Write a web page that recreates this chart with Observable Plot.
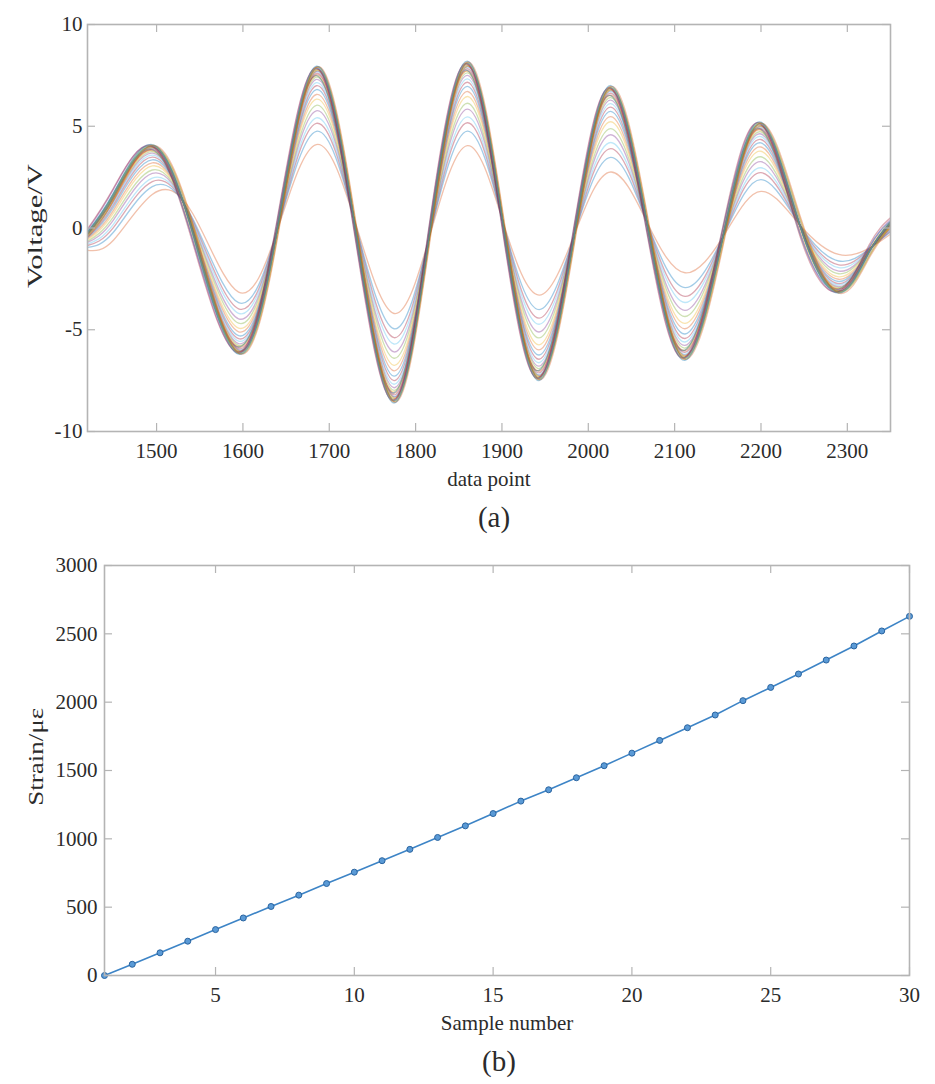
<!DOCTYPE html>
<html>
<head>
<meta charset="utf-8">
<script src="https://cdn.jsdelivr.net/npm/d3@7"></script>
<script src="https://cdn.jsdelivr.net/npm/@observablehq/plot@0.6"></script>
<style>
  html, body { margin: 0; padding: 0; background: #fff; }
  #wrap { width: 935px; height: 1084px; position: relative; overflow: hidden; }
  #wrap svg { display: block; overflow: visible; }
</style>
</head>
<body>
<div id="wrap"><div id="pa"></div><div id="pb"></div></div>
<script>
// ---------- Panel (a): voltage waveforms ----------
const keyX = [1420, 1450, 1495, 1542, 1595, 1640, 1685, 1730, 1775, 1817, 1860, 1902, 1943, 1985, 2026, 2069, 2112, 2158, 2200, 2246, 2290, 2325, 2350];
const waveRows = [
  [-1.1, -0.6, 1.65, 0.7, -3.15, -0.1, 4.1, 0.3, -4.2, -0.3, 4.05, 0.2, -3.3, -0.2, 2.75, 0.2, -2.2, -0.3, 1.8, 0.1, -1.3, -1.0, -0.3],
  [-0.95, -0.21, 2.03, 0.45, -3.67, -0.08, 4.75, 0.25, -4.95, -0.25, 4.76, 0.17, -4.01, -0.17, 3.47, 0.17, -2.93, -0.25, 2.38, 0.08, -1.62, -1.03, -0.2],
  [-0.86, 0.02, 2.28, 0.36, -3.97, -0.07, 5.14, 0.22, -5.39, -0.22, 5.17, 0.15, -4.43, -0.15, 3.9, 0.15, -3.36, -0.22, 2.72, 0.07, -1.81, -1.05, -0.14],
  [-0.79, 0.18, 2.45, 0.29, -4.19, -0.07, 5.41, 0.2, -5.7, -0.2, 5.46, 0.13, -4.73, -0.13, 4.2, 0.13, -3.66, -0.2, 2.96, 0.07, -1.95, -1.07, -0.1],
  [-0.71, 0.39, 2.68, 0.21, -4.46, -0.06, 5.76, 0.17, -6.09, -0.17, 5.84, 0.11, -5.11, -0.11, 4.58, 0.11, -4.05, -0.17, 3.26, 0.06, -2.12, -1.09, -0.04],
  [-0.65, 0.55, 2.85, 0.15, -4.68, -0.05, 6.03, 0.15, -6.4, -0.15, 6.13, 0.1, -5.4, -0.1, 4.88, 0.1, -4.35, -0.15, 3.5, 0.05, -2.25, -1.1, 0.0],
  [-0.58, 0.73, 3.05, 0.08, -4.92, -0.04, 6.33, 0.13, -6.75, -0.13, 6.46, 0.08, -5.74, -0.08, 5.22, 0.08, -4.69, -0.13, 3.77, 0.04, -2.4, -1.12, 0.05],
  [-0.52, 0.87, 3.2, 0.02, -5.1, -0.04, 6.56, 0.11, -7.02, -0.11, 6.71, 0.07, -5.99, -0.07, 5.47, 0.07, -4.95, -0.11, 3.98, 0.04, -2.52, -1.13, 0.08],
  [-0.47, 1.01, 3.35, -0.03, -5.29, -0.03, 6.8, 0.09, -7.28, -0.09, 6.96, 0.06, -6.24, -0.06, 5.73, 0.06, -5.21, -0.09, 4.18, 0.03, -2.63, -1.14, 0.12],
  [-0.43, 1.13, 3.48, -0.08, -5.44, -0.03, 6.99, 0.08, -7.5, -0.08, 7.16, 0.05, -6.45, -0.05, 5.94, 0.05, -5.43, -0.08, 4.35, 0.03, -2.73, -1.15, 0.15],
  [-0.39, 1.22, 3.58, -0.11, -5.56, -0.02, 7.14, 0.06, -7.68, -0.06, 7.33, 0.04, -6.62, -0.04, 6.11, 0.04, -5.6, -0.06, 4.49, 0.02, -2.8, -1.16, 0.17],
  [-0.35, 1.31, 3.68, -0.15, -5.68, -0.02, 7.3, 0.05, -7.85, -0.05, 7.5, 0.03, -6.79, -0.03, 6.28, 0.03, -5.77, -0.05, 4.62, 0.02, -2.88, -1.17, 0.2],
  [-0.33, 1.38, 3.75, -0.17, -5.77, -0.01, 7.41, 0.04, -7.98, -0.04, 7.62, 0.03, -6.91, -0.03, 6.41, 0.03, -5.9, -0.04, 4.72, 0.01, -2.93, -1.17, 0.22],
  [-0.25, 1.6, 3.8, -0.45, -5.82, 0.25, 7.48, -0.25, -8.05, 0.25, 7.7, -0.25, -7.0, 0.25, 6.5, -0.25, -6.0, 0.25, 4.8, -0.25, -2.97, -1.05, 0.3],
  [-0.3, 1.45, 3.83, -0.2, -5.86, -0.01, 7.53, 0.03, -8.12, -0.03, 7.74, 0.02, -7.04, -0.02, 6.53, 0.02, -6.03, -0.03, 4.83, 0.01, -2.99, -1.18, 0.23],
  [-0.2, 1.7, 3.85, -0.6, -5.85, 0.4, 7.5, -0.4, -8.1, 0.4, 7.75, -0.4, -7.0, 0.4, 6.5, -0.4, -6.0, 0.4, 4.85, -0.4, -3.0, -0.95, 0.35],
  [-0.28, 1.49, 3.88, -0.22, -5.93, -0.01, 7.6, 0.03, -8.2, -0.03, 7.83, 0.02, -7.12, -0.02, 6.62, 0.02, -6.11, -0.03, 4.89, 0.01, -3.03, -1.18, 0.25],
  [-0.26, 1.54, 3.93, -0.24, -5.99, -0.01, 7.68, 0.02, -8.29, -0.02, 7.91, 0.01, -7.21, -0.01, 6.7, 0.01, -6.2, -0.02, 4.96, 0.01, -3.07, -1.19, 0.26],
  [-0.3, 1.5, 3.95, -0.05, -6.0, -0.2, 7.7, 0.2, -8.3, -0.2, 7.95, 0.2, -7.25, -0.2, 6.75, 0.2, -6.25, -0.2, 5.0, 0.2, -3.1, -1.3, 0.2],
  [-0.25, 1.59, 3.98, -0.26, -6.05, 0.0, 7.76, 0.02, -8.38, -0.02, 7.99, 0.01, -7.29, -0.01, 6.79, 0.01, -6.29, -0.02, 5.03, 0.0, -3.11, -1.19, 0.27],
  [-0.4, 1.35, 3.95, 0.15, -6.05, -0.4, 7.75, 0.4, -8.35, -0.4, 7.95, 0.4, -7.3, -0.4, 6.8, 0.4, -6.3, -0.4, 5.0, 0.4, -3.1, -1.4, 0.1],
  [-0.24, 1.61, 4.0, -0.26, -6.08, 0.0, 7.8, 0.01, -8.42, -0.01, 8.03, 0.01, -7.33, -0.01, 6.83, 0.01, -6.33, -0.01, 5.06, 0.0, -3.12, -1.19, 0.28],
  [-0.23, 1.63, 4.03, -0.27, -6.11, 0.0, 7.83, 0.01, -8.47, -0.01, 8.08, 0.01, -7.37, -0.01, 6.87, 0.01, -6.37, -0.01, 5.1, 0.0, -3.14, -1.19, 0.28],
  [-0.05, 1.95, 4.0, -0.75, -6.1, 0.5, 7.85, -0.5, -8.45, 0.5, 8.05, -0.5, -7.35, 0.5, 6.85, -0.5, -6.35, 0.5, 5.1, -0.5, -3.1, -0.85, 0.5],
  [-0.22, 1.65, 4.05, -0.28, -6.14, 0.0, 7.87, 0.01, -8.51, -0.01, 8.12, 0.0, -7.42, 0.0, 6.92, 0.0, -6.41, -0.01, 5.13, 0.0, -3.16, -1.2, 0.29],
  [-0.1, 1.9, 4.05, -0.6, -6.15, 0.3, 7.9, -0.3, -8.5, 0.3, 8.1, -0.3, -7.4, 0.3, 6.9, -0.3, -6.4, 0.3, 5.15, -0.3, -3.15, -1.0, 0.4],
  [-0.35, 1.5, 4.05, 0.0, -6.15, -0.3, 7.9, 0.3, -8.5, -0.3, 8.1, 0.3, -7.4, -0.3, 6.9, 0.3, -6.4, -0.3, 5.15, 0.3, -3.15, -1.4, 0.15],
  [-0.21, 1.68, 4.08, -0.29, -6.17, 0.0, 7.91, 0.0, -8.56, 0.0, 8.16, 0.0, -7.46, 0.0, 6.96, 0.0, -6.46, 0.0, 5.17, 0.0, -3.18, -1.2, 0.29],
  [-0.45, 1.35, 4.05, 0.2, -6.15, -0.5, 7.9, 0.5, -8.55, -0.5, 8.15, 0.5, -7.45, -0.5, 6.95, 0.5, -6.45, -0.5, 5.15, 0.5, -3.2, -1.5, 0.05],
  [-0.2, 1.7, 4.1, -0.3, -6.2, 0.0, 7.95, 0.0, -8.6, 0.0, 8.2, 0.0, -7.5, 0.0, 7.0, 0.0, -6.5, 0.0, 5.2, 0.0, -3.2, -1.2, 0.3]
];
const waveColors = ["#D95319", "#0072BD", "#A2142F", "#4DBEEE", "#7E2F8E", "#77AC30", "#EDB120"];
const xTicksA = [1500, 1600, 1700, 1800, 1900, 2000, 2100, 2200, 2300];
const yTicksA = [-10, -5, 0, 5, 10];

// ---------- Panel (b): strain vs sample ----------
const sampleNumbers = [1, 2, 3, 4, 5, 6, 7, 8, 9, 10, 11, 12, 13, 14, 15, 16, 17, 18, 19, 20, 21, 22, 23, 24, 25, 26, 27, 28, 29, 30];
const strainValues = [0, 82, 166, 251, 336, 421, 505, 588, 673, 756, 840, 923, 1010, 1095, 1185, 1276, 1359, 1447, 1535, 1627, 1720, 1813, 1906, 2011, 2108, 2206, 2308, 2411, 2521, 2628];
const xTicksB = [5, 10, 15, 20, 25, 30];
const yTicksB = [0, 500, 1000, 1500, 2000, 2500, 3000];

const SERIF = "'Liberation Serif', 'Times New Roman', serif";
const AXC = "#b4b4b4";
const TXT = "#2b2b2b";
const TICK = 8;

function boxTicks(xt, yt, fw, fh) {
  return [
    Plot.tickX(xt, {x: d => d, stroke: AXC, strokeWidth: 1.2, insetTop: fh - TICK}),
    Plot.tickX(xt, {x: d => d, stroke: AXC, strokeWidth: 1.2, insetBottom: fh - TICK}),
    Plot.tickY(yt, {y: d => d, stroke: AXC, strokeWidth: 1.2, insetRight: fw - TICK}),
    Plot.tickY(yt, {y: d => d, stroke: AXC, strokeWidth: 1.2, insetLeft: fw - TICK}),
    Plot.frame({stroke: AXC, strokeWidth: 1.6})
  ];
}
const axisText = {tickSize: 0, tickFormat: d => String(d), fontSize: 21, fontFamily: SERIF, fill: TXT, label: null};

// Panel (a)
const waveData = waveRows.map((row, i) => keyX.map((x, j) => ({x, v: row[j], s: i + 1})));
const A = {W: 935, H: 540, L: 87, R: 45, T: 24, B: 109};
const plotA = Plot.plot({
  width: A.W, height: A.H,
  marginLeft: A.L, marginRight: A.R, marginTop: A.T, marginBottom: A.B,
  style: {fontFamily: SERIF, fontSize: "21px", color: TXT, background: "#fff", overflow: "visible"},
  x: {domain: [1420, 2350]},
  y: {domain: [-10, 10]},
  marks: [
    ...waveData.map((d, i) => Plot.line(d, {
      x: "x", y: "v", curve: "natural", clip: true,
      stroke: waveColors[i % waveColors.length], strokeOpacity: 0.36, strokeWidth: 1.35
    })),
    ...boxTicks(xTicksA, yTicksA, A.W - A.L - A.R, A.H - A.T - A.B),
    Plot.axisX(xTicksA, {...axisText, tickPadding: 12}),
    Plot.axisY(yTicksA, {...axisText, tickPadding: 5}),
    Plot.text(["data point"], {frameAnchor: "bottom", dy: 54, fontSize: 21, fontFamily: SERIF, fill: TXT}),
    Plot.text(["(a)"], {frameAnchor: "bottom", dy: 95, dx: 5, fontSize: 29, fontFamily: SERIF, fill: TXT}),
    Plot.text([{t: "Voltage/V", y: 0.1}], {text: "t", y: "y", frameAnchor: "left", textAnchor: "middle", dx: -52, rotate: -90, fontSize: 21, fontFamily: SERIF, fill: TXT})
  ]
});

// Panel (b)
const strainData = sampleNumbers.map((n, i) => ({n, s: strainValues[i]}));
const B = {W: 935, H: 544, L: 104, R: 26, T: 25, B: 109};
const plotB = Plot.plot({
  width: B.W, height: B.H,
  marginLeft: B.L, marginRight: B.R, marginTop: B.T, marginBottom: B.B,
  style: {fontFamily: SERIF, fontSize: "21px", color: TXT, background: "#fff", overflow: "visible"},
  x: {domain: [1, 30]},
  y: {domain: [0, 3000]},
  marks: [
    Plot.line(strainData, {x: "n", y: "s", stroke: "#3d84c6", strokeWidth: 1.6}),
    Plot.dot(strainData, {x: "n", y: "s", r: 3, fill: "#5a9ad6", stroke: "#2a64a0", strokeWidth: 1}),
    ...boxTicks(xTicksB, yTicksB, B.W - B.L - B.R, B.H - B.T - B.B),
    Plot.axisX(xTicksB, {...axisText, tickPadding: 12}),
    Plot.axisY(yTicksB, {...axisText, tickPadding: 7}),
    Plot.text(["Sample number"], {frameAnchor: "bottom", dy: 54, fontSize: 21, fontFamily: SERIF, fill: TXT}),
    Plot.text(["(b)"], {frameAnchor: "bottom", dy: 95, dx: -8, fontSize: 29, fontFamily: SERIF, fill: TXT}),
    Plot.text([{t: "Strain/με", y: 1600}], {text: "t", y: "y", frameAnchor: "left", textAnchor: "middle", dx: -68, rotate: -90, fontSize: 21, fontFamily: SERIF, fill: TXT})
  ]
});

document.getElementById("pa").appendChild(plotA);
document.getElementById("pb").appendChild(plotB);

// stretch the rotated axis titles to the lengths seen in the figure
function stretch(svg, label, len) {
  svg.querySelectorAll("text").forEach(t => {
    if (t.textContent === label) {
      t.setAttribute("textLength", len);
      t.setAttribute("lengthAdjust", "spacingAndGlyphs");
    }
  });
}
stretch(plotA, "Voltage/V", 124);
stretch(plotB, "Strain/με", 98);
</script>
</body>
</html>
